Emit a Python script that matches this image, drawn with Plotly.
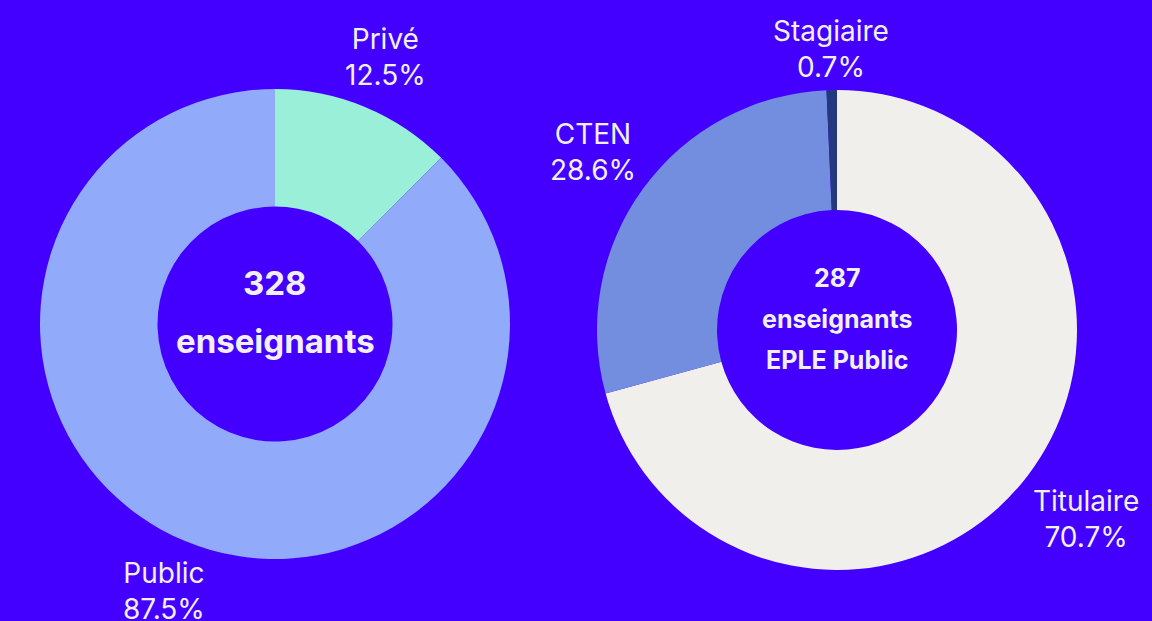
import math
import plotly.graph_objects as go

# Répartition des enseignants
secteur_labels = ["Privé", "Public"]
secteur_values = [41, 287]
secteur_colors = ["#99efd8", "#91aafa"]

statut_labels = ["Titulaire", "CTEN", "Stagiaire"]
statut_values = [203, 82, 2]
statut_colors = ["#f0efec", "#748edf", "#22397f"]

BG = "#4400ff"
TXT = "#f2f0ee"
FONT = "Inter"
W, H = 1152, 621
LABEL_SIZE = 28

# centre et rayon (px) de chaque anneau
LEFT = (275, 324, 235)
RIGHT = (837, 330, 240)


def domain(c):
    cx, cy, r = c
    return dict(x=[(cx - r) / W, (cx + r) / W], y=[(H - cy - r) / H, (H - cy + r) / H])


def text_width(s, size):
    narrow = set("iltrI.fj ")
    w = 0
    for ch in s:
        if ch in narrow:
            w += 0.28
        elif ch == "%":
            w += 0.8
        else:
            w += 0.6
    return w * size


def add_labels(fig, labels, values, c):
    # étiquettes extérieures placées selon l'angle médian de chaque secteur
    cx, cy, r = c
    total = sum(values)
    cum = 0
    for lab, v in zip(labels, values):
        frac = v / total
        theta = 2 * math.pi * (cum + frac / 2)
        cum += frac
        pct = f"{frac * 100:.1f}%"
        w = max(text_width(lab, LABEL_SIZE), text_width(pct, LABEL_SIZE))
        h = 50
        s, co = math.sin(theta), math.cos(theta)
        d = r + 15 + abs(s) * w / 2 + abs(co) * h / 2
        x = cx + d * s
        y = cy - d * co
        fig.add_annotation(
            text=f"{lab}<br>{pct}", x=x / W, y=(H - y) / H,
            xref="paper", yref="paper", xanchor="center", yanchor="middle",
            showarrow=False, font=dict(family=FONT, size=LABEL_SIZE, color=TXT),
        )


fig = go.Figure()

for labels, values, colors, c in [
    (secteur_labels, secteur_values, secteur_colors, LEFT),
    (statut_labels, statut_values, statut_colors, RIGHT),
]:
    fig.add_trace(go.Pie(
        labels=labels,
        values=values,
        hole=0.5,
        sort=False,
        direction="clockwise",
        rotation=0,
        marker=dict(colors=colors, line=dict(width=0)),
        textinfo="none",
        hoverinfo="label+percent+value",
        domain=domain(c),
        showlegend=False,
    ))
    add_labels(fig, labels, values, c)

# texte central
centre = [
    ("328", LEFT[0], 283, 33),
    ("enseignants", LEFT[0], 341, 33),
    ("287", RIGHT[0], 278, 25),
    ("enseignants", RIGHT[0], 319, 25),
    ("EPLE Public", RIGHT[0], 360, 25),
]
for txt, x, y, s in centre:
    fig.add_annotation(
        text=f"<b>{txt}</b>", x=x / W, y=(H - y) / H, xref="paper", yref="paper",
        xanchor="center", yanchor="middle",
        showarrow=False, font=dict(family=FONT, size=s, color=TXT),
    )

fig.update_layout(
    width=W,
    height=H,
    margin=dict(l=0, r=0, t=0, b=0),
    paper_bgcolor=BG,
    plot_bgcolor=BG,
)

fig.write_html(
    "out.html",
    config={"displayModeBar": False},
    post_script="document.body.style.margin='0';document.body.style.overflow='hidden';",
)
